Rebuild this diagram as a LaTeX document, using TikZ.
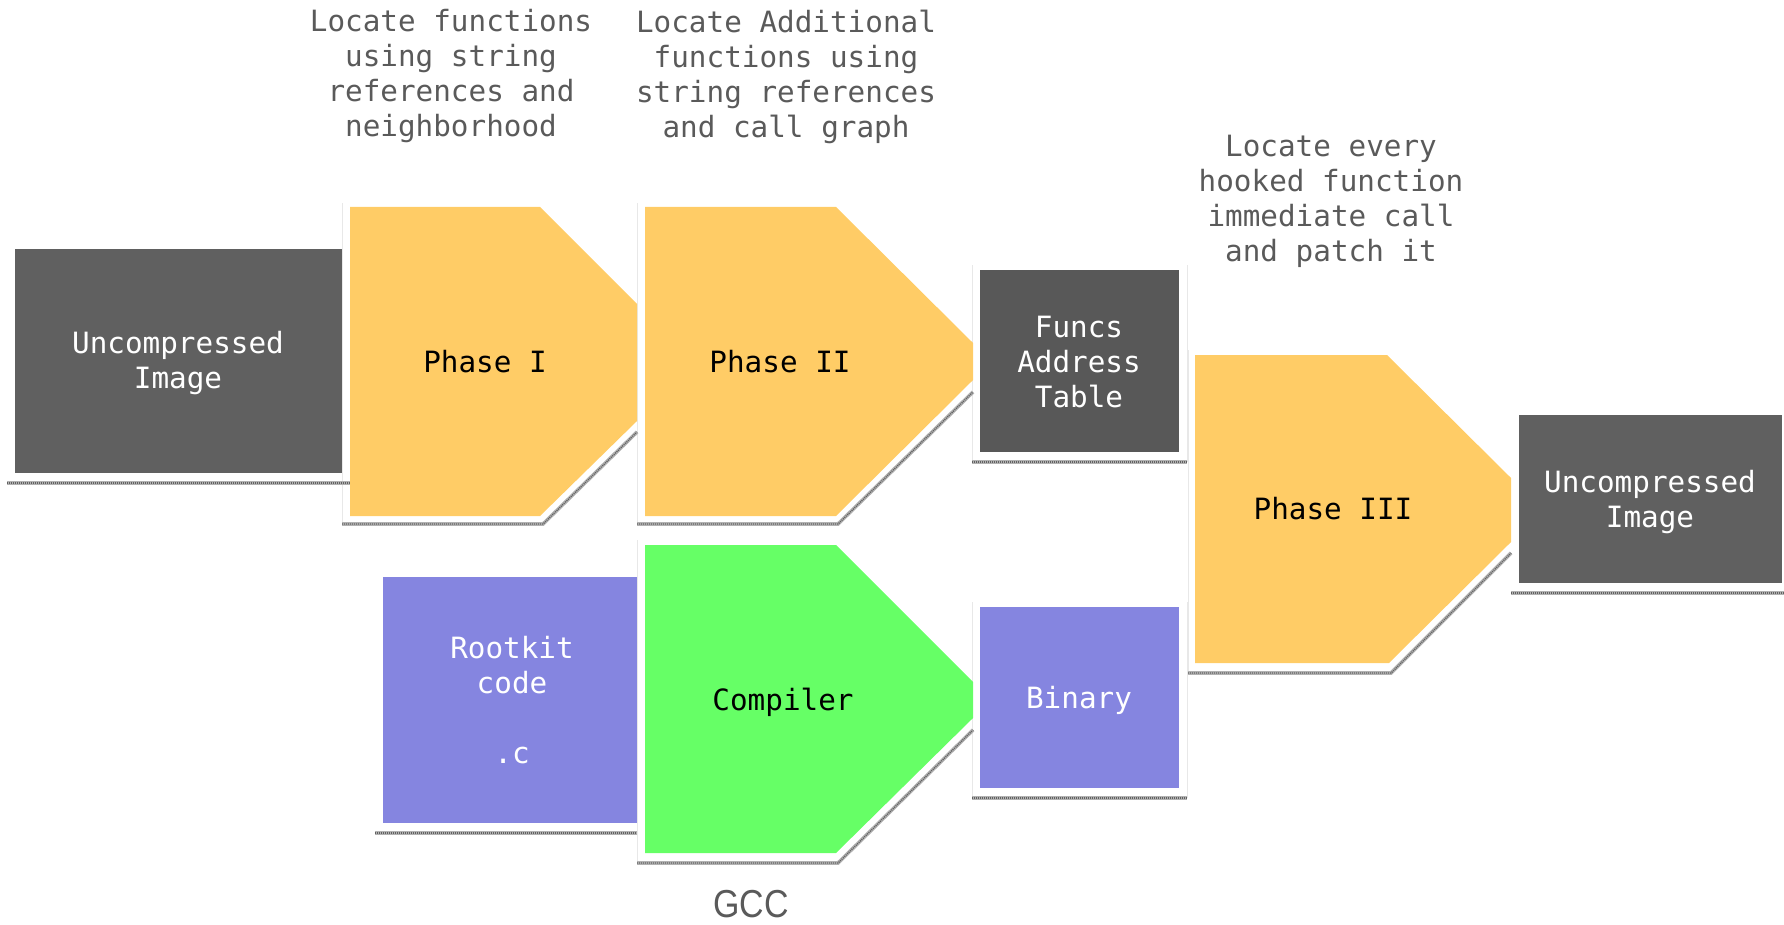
\documentclass[tikz,border=0pt]{standalone}
\usepackage{fontspec}
\usepackage{graphicx}
\newfontfamily\monofam{DejaVu Sans Mono}
\newfontfamily\gccfam{Liberation Sans}

\definecolor{boxgray}{HTML}{606060}
\definecolor{tablegray}{HTML}{585858}
\definecolor{phaseyellow}{HTML}{FFCC66}
\definecolor{compgreen}{HTML}{66FF66}
\definecolor{srcpurple}{HTML}{8585E0}
\definecolor{notegray}{HTML}{5A5A5A}

\tikzset{
  shadowbar/.style={draw=black!30, line width=3.6pt},
  shadowdots/.style={draw=black!62, line width=1.4pt, dash pattern=on 1pt off 1pt},
  guide/.style={draw=black!9, line width=0.8pt},
  monotext/.style={font={\monofam\fontsize{29.3}{35}\selectfont}, align=center, inner sep=0pt},
  boxtext/.style={monotext, text=white},
  phasetext/.style={monotext, text=black},
  notetext/.style={monotext, text=notegray},
}

% a textured drop shadow under a shape
\newcommand{\dropshadow}[1]{%
  \draw[shadowbar] #1;
  \draw[shadowdots] #1;
}

\begin{document}
\begin{tikzpicture}[x=1pt,y=-1pt]
\useasboundingbox (0,0) rectangle (1784,925);

% ---- faint frame guides
\draw[guide] (342,203) -- (342,524);
\draw[guide] (637,203) -- (637,524);
\draw[guide] (972,265) -- (972,462);
\draw[guide] (1187,265) -- (1187,462);
\draw[guide] (1188,350) -- (1188,673);
\draw[guide] (637,540) -- (637,863);
\draw[guide] (972,602) -- (972,798);
\draw[guide] (1187,602) -- (1187,798);

% ---- shadows
\dropshadow{(7,483) -- (350,483)}
\dropshadow{(342,524) -- (543,524) -- (637,432)}
\dropshadow{(637,524) -- (838,524) -- (973,392)}
\dropshadow{(972,462) -- (1187,462)}
\dropshadow{(1188,673) -- (1391,673) -- (1511,553)}
\dropshadow{(1511,593) -- (1784,593)}
\dropshadow{(375,833) -- (637,833)}
\dropshadow{(637,863) -- (838,863) -- (973,730)}
\dropshadow{(972,798) -- (1187,798)}

% ---- shapes
\fill[boxgray] (15,249) rectangle (342,473);
\fill[phaseyellow] (350,207) -- (540,207) -- (637,304) -- (637,421) -- (540,516) -- (350,516) -- cycle;
\fill[phaseyellow] (645,207) -- (836,207) -- (973,343) -- (973,380) -- (836,516) -- (645,516) -- cycle;
\fill[tablegray] (980,270) rectangle (1179,452);
\fill[phaseyellow] (1195,355) -- (1387,355) -- (1511,478) -- (1511,542) -- (1389,663) -- (1195,663) -- cycle;
\fill[boxgray] (1519,415) rectangle (1782,583);
\fill[srcpurple] (383,577) rectangle (637,823);
\fill[compgreen] (645,545) -- (836,545) -- (973,682) -- (973,718) -- (836,853) -- (645,853) -- cycle;
\fill[srcpurple] (980,607) rectangle (1179,788);

% ---- labels inside shapes
\node[boxtext] (imgin) at (178,363) {Uncompressed\\Image};
\node[phasetext] (ph1) at (485,362) {Phase I};
\node[phasetext] (ph2) at (780,362) {Phase II};
\node[boxtext] (table) at (1079,362) {Funcs\\Address\\Table};
\node[phasetext] (ph3) at (1333,509) {Phase III};
\node[boxtext] (imgout) at (1650,502) {Uncompressed\\Image};
\node[boxtext] (src) at (512,700) {Rootkit\\code\\[35pt].c};
\node[phasetext] (comp) at (783,702) {Compiler};
\node[boxtext] (bin) at (1079,700) {Binary};

% ---- annotations
\node[notetext] (note1) at (451,76.5) {Locate functions\\using string\\references and\\neighborhood};
\node[notetext] (note2) at (786,76.5) {Locate Additional\\functions using\\string references\\and call graph};
\node[notetext] (note3) at (1331,201) {Locate every\\hooked function\\immediate call\\and patch it};
\node[text=notegray, inner sep=0pt] (gcc) at (751,904) {\scalebox{0.87}[1]{\gccfam\fontsize{39}{44}\selectfont GCC}};
\end{tikzpicture}
\end{document}
